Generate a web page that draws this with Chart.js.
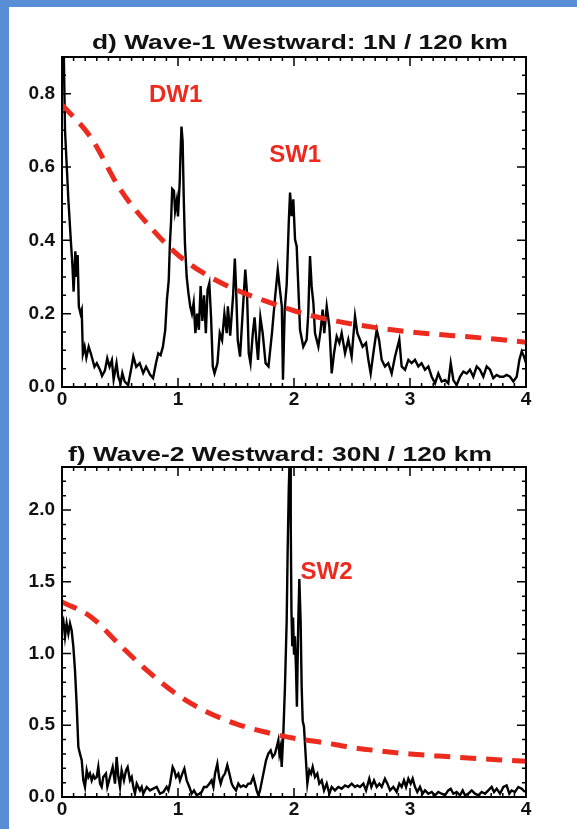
<!DOCTYPE html>
<html>
<head>
<meta charset="utf-8">
<title>Westward wave spectra</title>
<script src="https://cdn.jsdelivr.net/npm/chart.js@4.4.1/dist/chart.umd.min.js"></script>
<style>
  html, body { margin: 0; padding: 0; background: #fff; }
  body { width: 577px; height: 829px; position: relative; overflow: hidden; }
  .panel { position: absolute; left: 0; }
  #panelD { top: 0; }
  #panelF { top: 420px; }
  .edge-top { position: absolute; left: 0; top: 0; width: 577px; height: 7px; background: #588ed6; }
  .edge-left { position: absolute; left: 0; top: 0; width: 9px; height: 829px; background: #588ed6; }
</style>
</head>
<body>
<div class="panel" id="panelD"><canvas id="waveOne" width="577" height="420"></canvas></div>
<div class="panel" id="panelF"><canvas id="waveTwo" width="577" height="409"></canvas></div>
<div class="edge-top"></div>
<div class="edge-left"></div>
<script>
// frequency axis (cycles per day) shared by the red background curves
const noiseFreq = [0, 0.25, 0.5, 0.75, 1, 1.25, 1.5, 1.75, 2, 2.25, 2.5, 2.75, 3, 3.25, 3.5, 3.75, 4];
const noiseWave1 = [0.77, 0.68, 0.54, 0.44, 0.36, 0.305, 0.265, 0.235, 0.208, 0.187, 0.172, 0.16, 0.15, 0.143, 0.137, 0.13, 0.122];
const noiseWave2 = [1.36, 1.255, 1.058, 0.87, 0.71, 0.593, 0.51, 0.453, 0.41, 0.38, 0.345, 0.32, 0.30, 0.285, 0.272, 0.26, 0.249];

// wave-1 westward spectrum, 1N / 120 km
const freqWave1 = [
  0, 0.015, 0.026, 0.055, 0.078, 0.09, 0.10, 0.115, 0.125, 0.135,
  0.145, 0.16, 0.17, 0.18, 0.195, 0.21, 0.23, 0.25, 0.28, 0.30,
  0.33, 0.345, 0.37, 0.39, 0.41, 0.43, 0.445, 0.47, 0.485, 0.505,
  0.52, 0.54, 0.57, 0.60, 0.615, 0.64, 0.67, 0.70, 0.725, 0.76,
  0.785, 0.81, 0.83, 0.85, 0.87, 0.89, 0.905, 0.92, 0.93, 0.94,
  0.95, 0.965, 0.975, 0.99, 1.0, 1.015, 1.02, 1.03, 1.04, 1.05,
  1.06, 1.075, 1.09, 1.105, 1.12, 1.135, 1.15, 1.165, 1.18, 1.195,
  1.21, 1.225, 1.24, 1.255, 1.27, 1.285, 1.30, 1.315, 1.34, 1.36,
  1.38, 1.40, 1.42, 1.43, 1.45, 1.475, 1.49, 1.50, 1.515, 1.535,
  1.555, 1.58, 1.595, 1.61, 1.625, 1.645, 1.66, 1.675, 1.69, 1.71,
  1.73, 1.755, 1.78, 1.81, 1.835, 1.86, 1.875, 1.895, 1.905, 1.92,
  1.937, 1.955, 1.966, 1.98, 1.994, 2.009, 2.023, 2.037, 2.052, 2.08,
  2.109, 2.123, 2.138, 2.152, 2.167, 2.181, 2.21, 2.23, 2.247, 2.261,
  2.282, 2.305, 2.325, 2.345, 2.368, 2.391, 2.411, 2.44, 2.468, 2.497,
  2.526, 2.546, 2.569, 2.592, 2.621, 2.641, 2.661, 2.684, 2.713, 2.733,
  2.756, 2.784, 2.813, 2.842, 2.871, 2.908, 2.928, 2.957, 2.986, 3.014,
  3.043, 3.072, 3.1, 3.129, 3.158, 3.187, 3.216, 3.244, 3.273, 3.302,
  3.33, 3.351, 3.374, 3.402, 3.431, 3.46, 3.489, 3.517, 3.546, 3.575,
  3.603, 3.632, 3.661, 3.69, 3.718, 3.747, 3.776, 3.805, 3.833, 3.862,
  3.891, 3.92, 3.943, 3.963, 3.983, 4.0
];
const powerWave1 = [
  0.95, 0.92, 0.70, 0.51, 0.39, 0.33, 0.26, 0.37, 0.30, 0.36,
  0.22, 0.20, 0.21, 0.09, 0.11, 0.08, 0.11, 0.09, 0.055, 0.065,
  0.045, 0.03, 0.045, 0.078, 0.055, 0.073, 0.02, 0.065, 0.028, 0.01,
  0.038, 0.015, 0.005, 0.055, 0.083, 0.055, 0.065, 0.038, 0.055, 0.033,
  0.024, 0.065, 0.092, 0.087, 0.11, 0.156, 0.24, 0.29, 0.39, 0.45,
  0.54, 0.535, 0.48, 0.51, 0.465, 0.56, 0.62, 0.71, 0.67, 0.51,
  0.39, 0.30, 0.256, 0.22, 0.20, 0.23, 0.147, 0.20, 0.156, 0.275,
  0.18, 0.25, 0.147, 0.265, 0.283, 0.19, 0.056, 0.037, 0.065, 0.147,
  0.128, 0.20, 0.147, 0.22, 0.14, 0.25, 0.35, 0.275, 0.128, 0.083,
  0.19, 0.32, 0.256, 0.092, 0.065, 0.147, 0.19, 0.128, 0.074, 0.19,
  0.147, 0.065, 0.056, 0.147, 0.238, 0.32, 0.275, 0.22, 0.02, 0.21,
  0.28, 0.45, 0.53, 0.466, 0.512, 0.402, 0.384, 0.275, 0.156, 0.11,
  0.129, 0.2, 0.357, 0.275, 0.229, 0.147, 0.11, 0.156, 0.211, 0.147,
  0.22, 0.165, 0.037, 0.092, 0.138, 0.12, 0.147, 0.092, 0.129, 0.083,
  0.193, 0.147, 0.129, 0.11, 0.12, 0.074, 0.037, 0.092, 0.156, 0.129,
  0.074, 0.056, 0.065, 0.037, 0.083, 0.129, 0.056, 0.047, 0.074, 0.065,
  0.074, 0.056, 0.065, 0.047, 0.056, 0.028, 0.01, 0.037, 0.015, 0.019,
  0.01, 0.065, 0.019, 0.005, 0.028, 0.042, 0.037, 0.047, 0.028, 0.056,
  0.047, 0.028, 0.056, 0.047, 0.024, 0.033, 0.028, 0.028, 0.033, 0.028,
  0.015, 0.028, 0.074, 0.097, 0.083, 0.065
];

// wave-2 westward spectrum, 30N / 120 km
const freqWave2 = [
  0, 0.011, 0.026, 0.04, 0.055, 0.069, 0.083, 0.098, 0.112, 0.126,
  0.141, 0.155, 0.17, 0.184, 0.198, 0.213, 0.227, 0.241, 0.256, 0.27,
  0.284, 0.299, 0.313, 0.328, 0.342, 0.356, 0.379, 0.391, 0.414, 0.437,
  0.457, 0.471, 0.486, 0.5, 0.514, 0.534, 0.552, 0.566, 0.586, 0.601,
  0.615, 0.629, 0.644, 0.658, 0.672, 0.687, 0.701, 0.73, 0.759, 0.787,
  0.816, 0.845, 0.874, 0.902, 0.917, 0.931, 0.954, 0.968, 0.983, 1.003,
  1.017, 1.037, 1.055, 1.075, 1.098, 1.118, 1.138, 1.161, 1.184, 1.204,
  1.224, 1.247, 1.27, 1.29, 1.305, 1.319, 1.339, 1.354, 1.368, 1.385,
  1.405, 1.425, 1.443, 1.463, 1.477, 1.5, 1.52, 1.54, 1.563, 1.586,
  1.606, 1.626, 1.649, 1.664, 1.678, 1.693, 1.707, 1.736, 1.759, 1.779,
  1.799, 1.816, 1.836, 1.851, 1.865, 1.874, 1.885, 1.894, 1.908, 1.922,
  1.937, 1.945, 1.955, 1.966, 1.972, 1.978, 1.985, 1.992, 2.0, 2.008,
  2.017, 2.025, 2.037, 2.046, 2.057, 2.066, 2.075, 2.086, 2.103, 2.115,
  2.132, 2.147, 2.161, 2.181, 2.201, 2.218, 2.239, 2.259, 2.282, 2.305,
  2.325, 2.353, 2.382, 2.411, 2.44, 2.468, 2.497, 2.526, 2.546, 2.569,
  2.598, 2.621, 2.649, 2.667, 2.69, 2.713, 2.736, 2.756, 2.784, 2.805,
  2.828, 2.856, 2.885, 2.908, 2.928, 2.948, 2.966, 2.986, 3.006, 3.023,
  3.043, 3.063, 3.086, 3.109, 3.129, 3.158, 3.187, 3.216, 3.244, 3.273,
  3.302, 3.33, 3.351, 3.374, 3.402, 3.431, 3.454, 3.474, 3.503, 3.532,
  3.56, 3.589, 3.618, 3.647, 3.675, 3.704, 3.724, 3.747, 3.776, 3.805,
  3.833, 3.856, 3.876, 3.905, 3.934, 3.963, 3.991
];
const powerWave2 = [
  1.21, 1.232, 1.116, 1.209, 1.139, 1.209, 1.162, 1.046, 0.883, 0.651,
  0.349, 0.302, 0.256, 0.116, 0.07, 0.186, 0.139, 0.163, 0.116, 0.151,
  0.128, 0.139, 0.209, 0.093, 0.07, 0.139, 0.163, 0.07, 0.139, 0.209,
  0.093, 0.279, 0.139, 0.07, 0.186, 0.116, 0.186, 0.209, 0.116, 0.139,
  0.07, 0.023, 0.093, 0.07, 0.046, 0.07, 0.023, 0.07, 0.046, 0.058,
  0.07, 0.023, 0.035, 0.07, 0.046, 0.093, 0.209, 0.186, 0.139, 0.163,
  0.116, 0.163, 0.198, 0.116, 0.07, 0.023, 0.046, 0.012, 0.023, 0.035,
  0.07, 0.07, 0.093, 0.116, 0.07, 0.163, 0.232, 0.139, 0.093, 0.139,
  0.163, 0.221, 0.163, 0.093, 0.07, 0.046, 0.093, 0.07, 0.081, 0.07,
  0.093, 0.093, 0.14, 0.093, 0.046, 0.012, 0.046, 0.163, 0.256, 0.302,
  0.325, 0.279, 0.302, 0.349, 0.395, 0.302, 0.349, 0.21, 0.442, 0.767,
  1.232, 1.70, 2.15, 2.45, 1.9, 1.3, 1.05, 1.25, 1.0, 1.12,
  0.9, 0.63, 1.23, 1.52, 1.23, 0.77, 0.53, 0.49, 0.256, 0.093,
  0.186, 0.163, 0.209, 0.139, 0.163, 0.093, 0.116, 0.046, 0.093, 0.023,
  0.07, 0.046, 0.07, 0.058, 0.081, 0.07, 0.093, 0.07, 0.081, 0.07,
  0.093, 0.046, 0.128, 0.07, 0.116, 0.07, 0.093, 0.07, 0.128, 0.093,
  0.046, 0.07, 0.035, 0.093, 0.07, 0.116, 0.07, 0.128, 0.093, 0.128,
  0.07, 0.035, 0.07, 0.023, 0.046, 0.023, 0.035, 0.012, 0.035, 0.023,
  0.012, 0.046, 0.058, 0.023, 0.035, 0.012, 0.046, 0.012, 0.023, 0.046,
  0.023, 0.012, 0.035, 0.023, 0.046, 0.07, 0.035, 0.058, 0.023, 0.07,
  0.081, 0.023, 0.046, 0.035, 0.07, 0.058, 0.035
];

const RED = '#ec2a1e';
const FONT = '"Liberation Sans", Arial, Helvetica, sans-serif';

function toPoints(xs, ys) {
  return xs.map((x, i) => ({ x: x, y: ys[i] }));
}

// box around the plot with inward major/minor ticks on all four sides
const frameTicks = {
  id: 'frameTicks',
  afterDatasetsDraw(chart, args, opts) {
    const { ctx, chartArea: a, scales: { x, y } } = chart;
    ctx.save();
    ctx.strokeStyle = '#000';
    ctx.lineWidth = 1.5;
    ctx.beginPath();
    const nx = Math.round((x.max - x.min) / opts.xMinor);
    for (let i = 0; i <= nx; i++) {
      const v = x.min + i * opts.xMinor;
      const r = v / opts.xMajor;
      const len = Math.abs(r - Math.round(r)) < 1e-6 ? 9 : 4;
      const px = x.getPixelForValue(v);
      ctx.moveTo(px, a.bottom); ctx.lineTo(px, a.bottom - len);
      ctx.moveTo(px, a.top); ctx.lineTo(px, a.top + len);
    }
    const ny = Math.round((y.max - y.min) / opts.yMinor);
    for (let i = 0; i <= ny; i++) {
      const v = y.min + i * opts.yMinor;
      const r = v / opts.yMajor;
      const len = Math.abs(r - Math.round(r)) < 1e-6 ? 9 : 4;
      const py = y.getPixelForValue(v);
      ctx.moveTo(a.left, py); ctx.lineTo(a.left + len, py);
      ctx.moveTo(a.right, py); ctx.lineTo(a.right - len, py);
    }
    ctx.stroke();
    ctx.lineWidth = 2;
    ctx.strokeRect(a.left, a.top, a.right - a.left, a.bottom - a.top);
    ctx.restore();
  }
};

// panel title plus the red peak names
const captions = {
  id: 'captions',
  afterDraw(chart, args, opts) {
    const { ctx, scales: { x, y } } = chart;
    ctx.save();
    ctx.font = 'bold 21px ' + FONT;
    ctx.fillStyle = '#111';
    ctx.textBaseline = 'alphabetic';
    ctx.textAlign = 'left';
    const w = ctx.measureText(opts.title).width;
    ctx.translate(opts.titleLeft, opts.titleBaseline);
    ctx.scale(opts.titleWidth / w, 1);
    ctx.fillText(opts.title, 0, 0);
    ctx.restore();

    ctx.save();
    ctx.font = 'bold 24px ' + FONT;
    ctx.fillStyle = RED;
    ctx.textAlign = 'center';
    ctx.textBaseline = 'middle';
    opts.peaks.forEach(p => {
      ctx.fillText(p.text, x.getPixelForValue(p.x), y.getPixelForValue(p.y));
    });
    ctx.restore();
  }
};

function makePanel(canvasId, cfg) {
  const tickFont = { family: FONT, weight: 'bold', size: 19 };
  return new Chart(document.getElementById(canvasId), {
    type: 'line',
    data: {
      datasets: [{
        data: toPoints(noiseFreq, cfg.noise),
        borderColor: RED,
        borderWidth: 5,
        borderDash: [16, 10],
        cubicInterpolationMode: 'monotone',
        pointRadius: 0,
        fill: false
      }, {
        data: toPoints(cfg.freq, cfg.power),
        borderColor: '#000',
        borderWidth: 2.4,
        tension: 0,
        pointRadius: 0,
        fill: false
      }]
    },
    options: {
      responsive: false,
      animation: false,
      events: [],
      layout: { padding: { left: 10, right: 51, top: cfg.top, bottom: 0 } },
      plugins: {
        legend: { display: false },
        tooltip: { enabled: false },
        frameTicks: { xMajor: 1, xMinor: 0.1, yMajor: cfg.yStep, yMinor: cfg.yMinor },
        captions: {
          title: cfg.title,
          titleLeft: cfg.titleLeft,
          titleBaseline: cfg.titleBaseline,
          titleWidth: cfg.titleWidth,
          peaks: cfg.peaks
        }
      },
      scales: {
        x: {
          type: 'linear',
          min: 0,
          max: 4,
          grid: { display: false, drawTicks: false },
          border: { display: false },
          afterFit(scale) { scale.height = cfg.xHeight; },
          ticks: {
            stepSize: 1,
            padding: 1,
            color: '#111',
            font: tickFont,
            maxRotation: 0,
            callback: v => String(v)
          }
        },
        y: {
          type: 'linear',
          min: 0,
          max: cfg.yMax,
          grid: { display: false, drawTicks: false },
          border: { display: false },
          afterFit(scale) { scale.width = 52; },
          ticks: {
            stepSize: cfg.yStep,
            includeBounds: false,
            padding: 7,
            color: '#111',
            font: tickFont,
            callback: v => v.toFixed(1)
          }
        }
      }
    },
    plugins: [frameTicks, captions]
  });
}

makePanel('waveOne', {
  title: 'd) Wave-1 Westward: 1N / 120 km',
  titleLeft: 92, titleBaseline: 49, titleWidth: 416,
  top: 57, xHeight: 33,
  yMax: 0.9, yStep: 0.2, yMinor: 0.05,
  noise: noiseWave1, freq: freqWave1, power: powerWave1,
  peaks: [{ text: 'DW1', x: 0.98, y: 0.794 }, { text: 'SW1', x: 2.01, y: 0.633 }]
});

makePanel('waveTwo', {
  title: 'f) Wave-2 Westward: 30N / 120 km',
  titleLeft: 68, titleBaseline: 41, titleWidth: 424,
  top: 47, xHeight: 32,
  yMax: 2.3, yStep: 0.5, yMinor: 0.1,
  noise: noiseWave2, freq: freqWave2, power: powerWave2,
  peaks: [{ text: 'SW2', x: 2.28, y: 1.567 }]
});
</script>
</body>
</html>
